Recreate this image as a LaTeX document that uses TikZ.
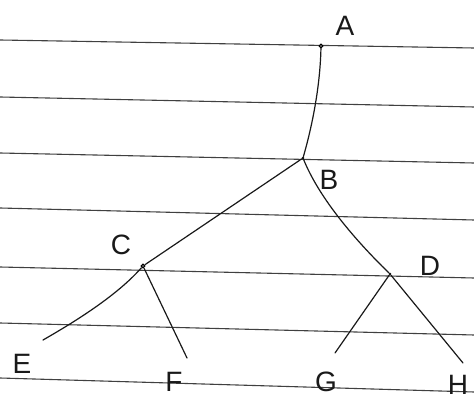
\documentclass[tikz,border=0pt]{standalone}
\usepackage{fontspec}
\setmainfont{Liberation Sans}
\begin{document}
\begin{tikzpicture}[x=1pt,y=-1pt,
  rule/.style={draw=black!75,line width=1.1pt},
  pen/.style={draw=black!90,line width=1.2pt,line cap=round},
  vtx/.style={circle,draw=black,fill=black!60,inner sep=1.4pt,line width=0.8pt},
  junc/.style={circle,fill=black,inner sep=1pt},
  lbl/.style={font=\fontsize{28}{28}\selectfont,inner sep=0pt,text=black!90}]
\useasboundingbox (0,0) rectangle (474,403);
\fill[white] (0,0) rectangle (474,403);
% ruled lines
\draw[rule] (0,40) -- (474,48);
\draw[rule] (0,97) -- (474,107);
\draw[rule] (0,153) -- (474,163);
\draw[rule] (0,208) -- (474,220);
\draw[rule] (0,267) -- (474,278);
\draw[rule] (0,323) -- (474,335);
\draw[rule] (0,378) -- (474,392);
% vertices
\node[vtx] (A) at (321,46) {};
\node[junc] (B) at (303,158) {};
\node[vtx] (C) at (143,266) {};
\node[junc] (D) at (390,274) {};
\coordinate (E) at (43,340);
\coordinate (F) at (187,358);
\coordinate (G) at (335,353);
\coordinate (H) at (463,363);
% labels
\node[lbl] (lA) at (345,26) {A};
\node[lbl] (lB) at (329,180) {B};
\node[lbl] (lC) at (121,245) {C};
\node[lbl] (lD) at (430,266) {D};
\node[lbl] (lE) at (22,364) {E};
\node[lbl] (lF) at (174,382) {F};
\node[lbl] (lG) at (326,382) {G};
\node[lbl] (lH) at (458,385) {H};
% edges
\draw[pen] (A) .. controls (320,90) and (311,130) .. (B);
\draw[pen] (B) -- (C);
\draw[pen] (B) .. controls (318,195) and (350,235) .. (D);
\draw[pen] (C) .. controls (120,292) and (85,316) .. (E);
\draw[pen] (C) -- (F);
\draw[pen] (D) -- (G);
\draw[pen] (D) -- (H);
\end{tikzpicture}
\end{document}
